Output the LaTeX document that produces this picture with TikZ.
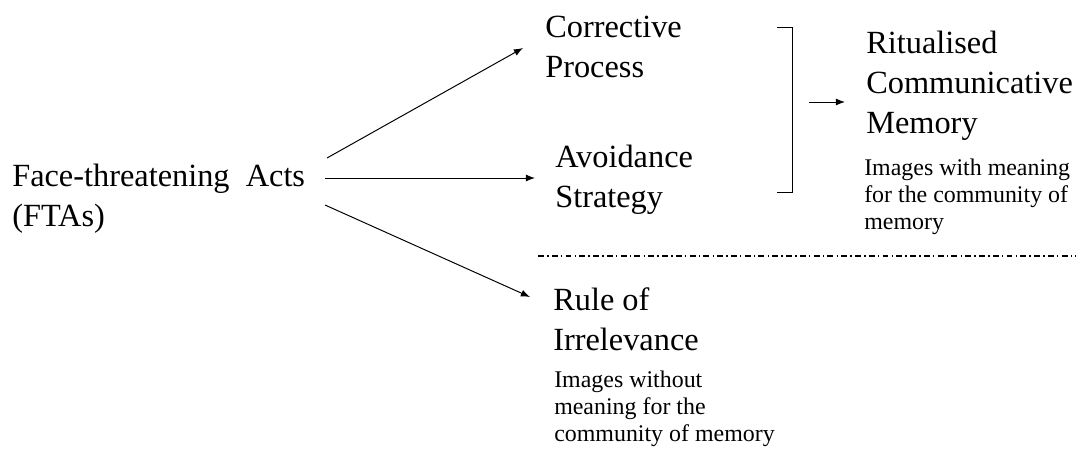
\documentclass[tikz,border=0pt]{standalone}
\usepackage{fontspec}
\setmainfont{Liberation Serif}
\usetikzlibrary{arrows.meta,calc}
\tikzset{
  big/.style={anchor=west,align=left,inner sep=0pt,font=\fontsize{23}{28.5}\selectfont},
  small/.style={anchor=west,align=left,inner sep=0pt,font=\fontsize{17}{19}\selectfont},
  arr/.style={line width=0.7pt,-{Latex[length=6.5pt,width=5pt]}},
  sep/.style={line width=1.2pt,dash pattern=on 4.2pt off 2.3pt on 1pt off 2.3pt}
}
\begin{document}
\begin{tikzpicture}[x=0.025cm,y=-0.025cm]
\useasboundingbox (0,0) rectangle (1080,453);
\node[big] (fta) at (12,199) {Face-threatening~ Acts\\(FTAs)};
\node[big] (cp) at (545,47) {Corrective\\Process};
\node[big] (av) at (555,180) {Avoidance\\Strategy};
\node[big] (ri) at (553,319) {Rule of\\Irrelevance};
\node[small] (rinote) at (554,409) {Images without\\meaning for the\\community of memory};
\node[big] (rcm) at (866,86) {Ritualised\\Communicative\\Memory};
\node[small] (rcmnote) at (864,197) {Images with meaning\\for the community of\\memory};
\coordinate (s1) at (327,158);
\coordinate (s2) at (325,178);
\coordinate (s3) at (325,205);
\coordinate (e1) at (523,48);
\coordinate (e2) at (535,178);
\coordinate (e3) at (530,297);
\draw[arr] (s1) -- (e1);
\draw[arr] (s2) -- (e2);
\draw[arr] (s3) -- (e3);
\coordinate (bt) at (777,27);
\coordinate (bb) at (777,192);
\draw[line width=0.7pt] (bt) -- (792,27) -- (792,192) -- (bb);
\coordinate (ba) at (809,102);
\coordinate (bz) at (845,102);
\draw[arr] (ba) -- (bz);
\coordinate (l1) at (538,256);
\coordinate (l2) at (1076,256);
\draw[sep] (l1) -- (l2);
\end{tikzpicture}
\end{document}
